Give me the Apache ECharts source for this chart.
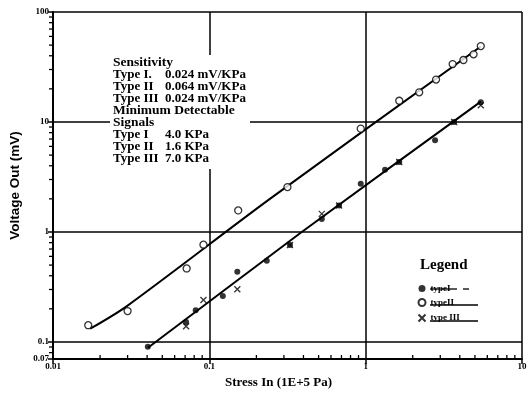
<!DOCTYPE html>
<html>
<head>
<meta charset="utf-8">
<script src="https://cdn.jsdelivr.net/npm/echarts@6/dist/echarts.min.js"></script>
<style>html,body{margin:0;padding:0;background:#fff;}#c{width:530px;height:397px;}</style>
</head>
<body>
<div id="c"></div>
<script>
// ---- data ----
const typeI_x = [0.0404, 0.071, 0.0818, 0.122, 0.151, 0.233, 0.328, 0.524, 0.676, 0.93, 1.33, 1.64, 2.78, 3.68, 5.45];
const typeI_y = [0.0904, 0.152, 0.194, 0.262, 0.434, 0.547, 0.76, 1.31, 1.74, 2.74, 3.68, 4.33, 6.82, 10.0, 15.1];
const typeII_x = [0.0168, 0.030, 0.0716, 0.0917, 0.153, 0.316, 0.93, 1.64, 2.2, 2.82, 3.6, 4.22, 4.9, 5.45];
const typeII_y = [0.142, 0.191, 0.466, 0.766, 1.57, 2.56, 8.7, 15.6, 18.6, 24.3, 33.6, 36.6, 41.2, 49];
const typeIII_x = [0.071, 0.0917, 0.151, 0.328, 0.524, 0.676, 1.64, 3.68, 5.45];
const typeIII_y = [0.139, 0.241, 0.301, 0.76, 1.46, 1.74, 4.33, 10.0, 14.2];
const fitII_x = [0.0173, 0.0297, 0.244, 5.45];
const fitII_y = [0.132, 0.212, 2.0, 48.6];
const fitI_x = [0.0405, 0.39, 5.45];
const fitI_y = [0.0885, 1.0, 15.3];
const seriesNames = ['typeI', 'typeII', 'type III'];
const xMin = 0.01, xMax = 10, yMin = 0.07, yMax = 100;
const xMinorTicks = [0.02,0.03,0.04,0.05,0.06,0.07,0.08,0.09,0.2,0.3,0.4,0.5,0.6,0.7,0.8,0.9,2,3,4,5,6,7,8,9];
const yMinorTicks = [0.08,0.09,0.2,0.3,0.4,0.5,0.6,0.7,0.8,0.9,2,3,4,5,6,7,8,9,20,30,40,50,60,70,80,90];
const noteLines = [
  ['Sensitivity', ''],
  ['Type I.', '0.024 mV/KPa'],
  ['Type II', '0.064 mV/KPa'],
  ['Type III', '0.024 mV/KPa'],
  ['Minimum Detectable', ''],
  ['Signals', ''],
  ['Type I', '4.0 KPa'],
  ['Type II', '1.6 KPa'],
  ['Type III', '7.0 KPa']
];

const zip = (a, b) => a.map((v, i) => [v, b[i]]);
const serif = '"Liberation Serif", "DejaVu Serif", serif';
const chart = echarts.init(document.getElementById('c'), null, {renderer: 'canvas'});

const noteText = noteLines.map(l => l[1] ? '{a|' + l[0] + '}{b|' + l[1] + '}' : '{c|' + l[0] + '}').join('\n');
const xPath = 'path://M0,0L10,10M10,0L0,10';
const labelFmt = v => String(Number(Number(v).toPrecision(3)));

const option = {
  backgroundColor: '#fff',
  animation: false,
  grid: {left: 53, right: 8, top: 12, bottom: 38, containLabel: false},
  xAxis: {
    type: 'log', logBase: 10, min: xMin, max: xMax,
    name: 'Stress In (1E+5 Pa)', nameLocation: 'middle', nameGap: 13,
    nameTextStyle: {fontFamily: serif, fontWeight: 'bold', fontSize: 13, color: '#000', padding: [0, 18, 0, 0]},
    axisLine: {show: true, onZero: false, lineStyle: {color: '#000', width: 2}},
    axisTick: {show: true, length: 5, inside: false, lineStyle: {color: '#000', width: 1.5}},
    axisLabel: {margin: 3, fontFamily: serif, fontWeight: 'bold', fontSize: 9, color: '#000', formatter: labelFmt},
    splitLine: {show: true, lineStyle: {color: '#000', width: 1.5}},
    minorTick: {show: false}
  },
  yAxis: {
    type: 'log', logBase: 10, min: yMin, max: yMax,
    name: 'Voltage Out (mV)', nameLocation: 'middle', nameGap: 31,
    nameTextStyle: {fontFamily: '"Liberation Sans", Arial, sans-serif', fontWeight: 'bold', fontSize: 13.5, color: '#000'},
    axisLine: {show: true, onZero: false, lineStyle: {color: '#000', width: 2}},
    axisTick: {show: true, length: 5, inside: false, lineStyle: {color: '#000', width: 1.5}},
    axisLabel: {margin: 4, fontFamily: serif, fontWeight: 'bold', fontSize: 9, color: '#000', formatter: labelFmt},
    splitLine: {show: true, lineStyle: {color: '#000', width: 1.5}},
    minorTick: {show: false}
  },
  legend: {
    orient: 'vertical', left: 411, top: 279,
    itemWidth: 7, itemHeight: 7, itemGap: 5,
    textStyle: {fontFamily: serif, fontWeight: 'bold', fontSize: 9, color: '#000'},
    data: [
      {name: seriesNames[0], icon: 'circle'},
      {name: seriesNames[1], icon: 'circle'},
      {name: seriesNames[2], icon: xPath}
    ]
  },
  graphic: [
    {type: 'rect', left: 110, top: 55, shape: {width: 140, height: 114}, style: {fill: '#fff'}, z: 50, silent: true},
    {type: 'text', left: 113, top: 56, z: 51, silent: true,
      style: {text: noteText, fill: '#000', font: 'bold 13px ' + serif, lineHeight: 12,
        rich: {
          a: {fontFamily: serif, fontWeight: 'bold', fontSize: 13, lineHeight: 12, width: 52, fill: '#000'},
          b: {fontFamily: serif, fontWeight: 'bold', fontSize: 13, lineHeight: 12, fill: '#000'},
          c: {fontFamily: serif, fontWeight: 'bold', fontSize: 13.5, lineHeight: 12, fill: '#000'}
        }}},
    {type: 'text', left: 420, top: 258, z: 51, silent: true,
      style: {text: 'Legend', fill: '#000', font: 'bold 15px ' + serif}},
    {type: 'line', z: 51, silent: true, shape: {x1: 430, y1: 289, x2: 457, y2: 289}, style: {stroke: '#000', lineWidth: 1.3}},
    {type: 'line', z: 51, silent: true, shape: {x1: 463, y1: 289, x2: 469, y2: 289}, style: {stroke: '#000', lineWidth: 1.3}},
    {type: 'line', z: 51, silent: true, shape: {x1: 430, y1: 305, x2: 478, y2: 305}, style: {stroke: '#000', lineWidth: 1.3}},
    {type: 'line', z: 51, silent: true, shape: {x1: 430, y1: 321, x2: 478, y2: 321}, style: {stroke: '#000', lineWidth: 1.3}}
  ],
  series: [
    {type: 'line', name: 'fitII', data: zip(fitII_x, fitII_y), showSymbol: false, smooth: 0.3,
      lineStyle: {color: '#000', width: 2}, silent: true, z: 3},
    {type: 'line', name: 'fitI', data: zip(fitI_x, fitI_y), showSymbol: false, smooth: 0.2,
      lineStyle: {color: '#000', width: 2}, silent: true, z: 3},
    {type: 'scatter', name: seriesNames[0], data: zip(typeI_x, typeI_y), symbol: 'circle', symbolSize: 6,
      itemStyle: {color: '#000'}, z: 5},
    {type: 'scatter', name: seriesNames[1], data: zip(typeII_x, typeII_y), symbol: 'circle', symbolSize: 7,
      itemStyle: {color: '#fff', borderColor: '#000', borderWidth: 1.3}, z: 5},
    {type: 'scatter', name: seriesNames[2], data: zip(typeIII_x, typeIII_y), symbol: xPath, symbolSize: 6,
      itemStyle: {color: 'none', borderColor: '#000', borderWidth: 1.3}, z: 5},
    {type: 'custom', name: 'xminor', silent: true, clip: false, z: 4,
      data: xMinorTicks.map(v => [v, yMin]),
      renderItem: (params, api) => {
        const p = api.coord([api.value(0), api.value(1)]);
        return {type: 'line', shape: {x1: p[0], y1: p[1], x2: p[0], y2: p[1] - 4}, style: {stroke: '#000', lineWidth: 1.3}};
      }},
    {type: 'custom', name: 'yminor', silent: true, clip: false, z: 4,
      data: yMinorTicks.map(v => [xMin, v]),
      renderItem: (params, api) => {
        const p = api.coord([api.value(0), api.value(1)]);
        return {type: 'line', shape: {x1: p[0] - 4, y1: p[1], x2: p[0], y2: p[1]}, style: {stroke: '#000', lineWidth: 1.3}};
      }}
  ]
};
chart.setOption(option);
</script>
</body>
</html>
